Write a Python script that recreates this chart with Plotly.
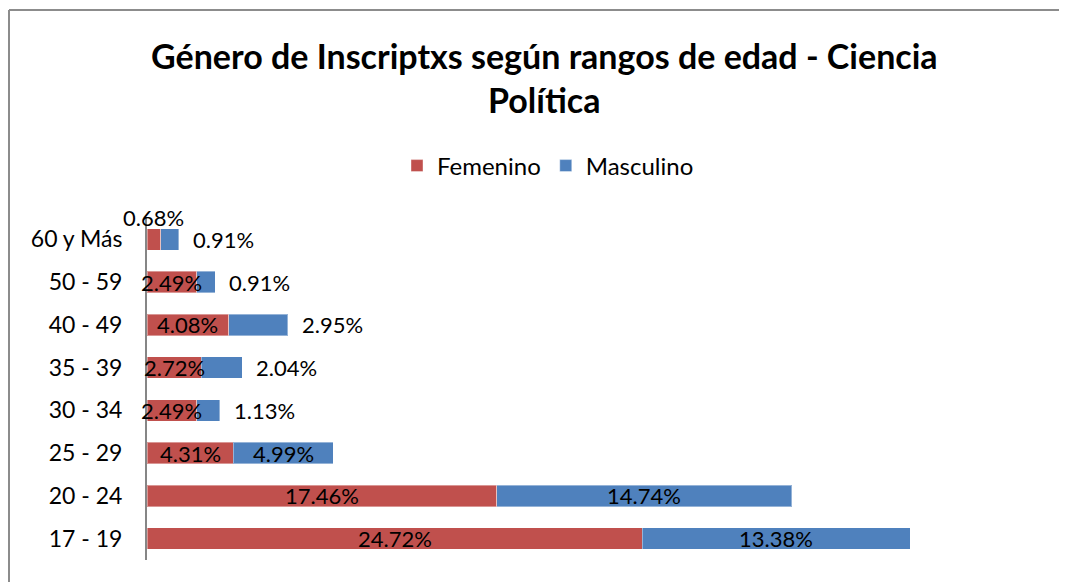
import plotly.graph_objects as go

# rangos de edad, de abajo hacia arriba
rangos = ["17 - 19", "20 - 24", "25 - 29", "30 - 34", "35 - 39", "40 - 49", "50 - 59", "60 y Más"]
femenino = [24.72, 17.46, 4.31, 2.49, 2.72, 4.08, 2.49, 0.68]
masculino = [13.38, 14.74, 4.99, 1.13, 2.04, 2.95, 0.91, 0.91]

titulo = "Género de Inscriptxs según rangos de edad - Ciencia<br>Política"
ROJO = "#C0504D"
AZUL = "#4F81BD"
FUENTE = "Lato"

# la pagina tiene 8px de margen en el body
OFF = 8
W, H = 1067 - OFF, 582 - OFF
ML, MR, MT, MB = 147 - OFF, 39, 218 - OFF, 22
PW = W - ML - MR
PH = H - MT - MB


def px_x(p):
    return (p - OFF - ML) / PW


def px_y(p):
    return (H - MB - (p - OFF)) / PH


fig = go.Figure()

fig.add_trace(
    go.Bar(
        y=rangos,
        x=femenino,
        name="Femenino",
        orientation="h",
        marker=dict(color=ROJO, line=dict(color="rgba(255,255,255,0.4)", width=1)),
    )
)
fig.add_trace(
    go.Bar(
        y=rangos,
        x=masculino,
        name="Masculino",
        orientation="h",
        marker=dict(color=AZUL, line=dict(color="rgba(255,255,255,0.4)", width=1)),
    )
)

anotaciones = []
for r, f, m in zip(rangos, femenino, masculino):
    # etiqueta femenino: centrada en la barra, o encima si es muy chica
    if f < 1:
        anotaciones.append(dict(x=f / 2, y=r, text=f"{f:.2f}%", showarrow=False,
                                yshift=22, xanchor="center"))
    else:
        anotaciones.append(dict(x=f / 2, y=r, text=f"{f:.2f}%", showarrow=False,
                                xanchor="center"))
    # etiqueta masculino: afuera si la barra es corta
    if m < 4:
        anotaciones.append(dict(x=f + m, y=r, text=f"{m:.2f}%", showarrow=False,
                                xanchor="left", xshift=12))
    else:
        anotaciones.append(dict(x=f + m / 2, y=r, text=f"{m:.2f}%", showarrow=False,
                                xanchor="center"))

for a in anotaciones:
    a["font"] = dict(family=FUENTE, size=22, color="black")

anotaciones.append(
    dict(
        xref="paper", yref="paper",
        x=px_x(544), y=px_y(77),
        text=f"<b>{titulo}</b>",
        showarrow=False,
        xanchor="center", yanchor="middle",
        font=dict(family=FUENTE, size=34, color="black"),
    )
)

# marco del grafico (solo borde superior e izquierdo visibles)
marco = dict(type="line", xref="paper", yref="paper", line=dict(color="#8C8C8C", width=2))

fig.update_layout(
    width=W,
    height=H,
    margin=dict(l=ML, r=MR, t=MT, b=MB, autoexpand=False),
    paper_bgcolor="white",
    plot_bgcolor="white",
    barmode="stack",
    bargap=0.5,
    font=dict(family=FUENTE, size=22, color="black"),
    showlegend=True,
    legend=dict(
        orientation="h",
        xref="container",
        yref="container",
        x=(548 - OFF) / W,
        y=1 - (166 - OFF) / H,
        xanchor="center",
        yanchor="middle",
        font=dict(family=FUENTE, size=24),
        itemwidth=30,
        traceorder="normal",
    ),
    annotations=anotaciones,
    shapes=[
        dict(marco, x0=px_x(9), x1=px_x(1080), y0=px_y(10), y1=px_y(10)),
        dict(marco, x0=px_x(9), x1=px_x(9), y0=px_y(10), y1=px_y(600)),
    ],
)

fig.update_xaxes(
    range=[0, PW / 20.03],
    showgrid=False,
    showticklabels=False,
    zeroline=False,
    showline=False,
    ticks="",
)
fig.update_yaxes(
    categoryorder="array",
    categoryarray=rangos,
    range=[-0.5, len(rangos) - 0.5],
    showgrid=False,
    showline=True,
    linecolor="#868686",
    linewidth=2,
    ticks="",
    ticklabelstandoff=18,
    tickfont=dict(family=FUENTE, size=23),
)

fig.write_html("out.html")
